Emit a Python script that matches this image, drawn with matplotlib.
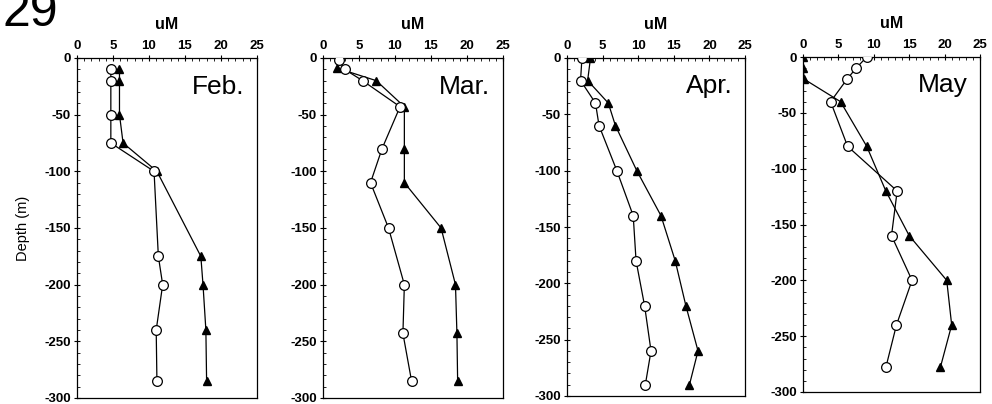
import matplotlib
matplotlib.use("Agg")
import matplotlib.pyplot as plt
from matplotlib.ticker import MultipleLocator

plt.rcParams['font.family'] = ['Liberation Sans', 'DejaVu Sans']
plt.rcParams['axes.unicode_minus'] = False

months = ["Feb.", "Mar.", "Apr.", "May"]

# open circles / filled triangles: (concentration uM, depth m)
feb_circ_x = [4.7, 4.7, 4.7, 4.7, 10.7, 11.3, 11.9, 11.0, 11.1]
feb_circ_d = [-10, -20, -50, -75, -100, -175, -200, -240, -285]
feb_tri_x = [5.9, 5.9, 5.9, 6.4, 11.1, 17.2, 17.5, 17.9, 18.0]
feb_tri_d = [-10, -20, -50, -75, -100, -175, -200, -240, -285]

mar_circ_x = [2.2, 3.0, 5.5, 10.7, 8.2, 6.6, 9.1, 11.3, 11.1, 12.3]
mar_circ_d = [-2, -10, -20, -43, -80, -110, -150, -200, -243, -285]
mar_tri_x = [2.0, 7.4, 11.3, 11.3, 11.3, 16.4, 18.4, 18.6, 18.7]
mar_tri_d = [-9, -20, -43, -80, -110, -150, -200, -243, -285]

apr_circ_x = [2.1, 1.9, 4.0, 4.5, 7.0, 9.3, 9.7, 10.9, 11.8, 11.0]
apr_circ_d = [0, -20, -40, -60, -100, -140, -180, -220, -260, -290]
apr_tri_x = [3.3, 2.9, 5.8, 6.8, 9.8, 13.2, 15.2, 16.7, 18.4, 17.2]
apr_tri_d = [0, -20, -40, -60, -100, -140, -180, -220, -260, -290]

may_circ_x = [9.0, 7.5, 6.2, 3.9, 6.3, 13.3, 12.5, 15.4, 13.2, 11.7]
may_circ_d = [0, -10, -20, -40, -80, -120, -160, -200, -240, -278]
may_tri_x = [0.0, 0.0, 0.2, 5.3, 9.0, 11.7, 15.0, 20.3, 21.0, 19.4]
may_tri_d = [0, -10, -20, -40, -80, -120, -160, -200, -240, -278]

circ_x = [feb_circ_x, mar_circ_x, apr_circ_x, may_circ_x]
circ_d = [feb_circ_d, mar_circ_d, apr_circ_d, may_circ_d]
tri_x = [feb_tri_x, mar_tri_x, apr_tri_x, may_tri_x]
tri_d = [feb_tri_d, mar_tri_d, apr_tri_d, may_tri_d]

W, H = 992, 404
fig = plt.figure(figsize=(W / 100, H / 100), dpi=100)

# panel boxes in pixels: left, top, right, bottom
boxes = [(77, 58, 257, 398), (323, 58, 503, 398),
         (567, 58, 745, 396), (803, 57, 980, 392)]

for i, (l, t, r, b) in enumerate(boxes):
    ax = fig.add_axes([l / W, 1 - b / H, (r - l) / W, (b - t) / H])
    ax.plot(tri_x[i], tri_d[i], color='black', lw=0.9, marker='^',
            ms=6, mfc='black', mec='black', zorder=2)
    ax.plot(circ_x[i], circ_d[i], color='black', lw=0.9, marker='o',
            ms=7, mfc='white', mec='black', mew=0.9, zorder=3)
    ax.set_xlim(0, 25)
    ax.set_ylim(-300, 0)
    ax.xaxis.set_major_locator(MultipleLocator(5))
    ax.xaxis.set_minor_locator(MultipleLocator(1))
    ax.yaxis.set_major_locator(MultipleLocator(50))
    ax.yaxis.set_minor_locator(MultipleLocator(10))
    ax.xaxis.tick_top()
    ax.xaxis.set_label_position('top')
    ax.tick_params(axis='x', which='major', direction='inout', length=5,
                   width=0.8, labelsize=9.5, pad=2, bottom=False)
    ax.tick_params(axis='x', which='minor', direction='in', length=2.5,
                   width=0.6, bottom=False)
    ax.tick_params(axis='y', which='major', direction='inout', length=5,
                   width=0.8, labelsize=9.5, pad=2, right=False)
    ax.tick_params(axis='y', which='minor', direction='in', length=2.5,
                   width=0.6, right=False)
    for lab in ax.get_xticklabels() + ax.get_yticklabels():
        lab.set_fontweight('bold')
    for s in ax.spines.values():
        s.set_linewidth(0.9)
    ax.set_xlabel('uM', fontsize=11.5, fontweight='bold', labelpad=8)
    ax.text(0.93, 0.895, months[i], transform=ax.transAxes, fontsize=19,
            ha='right', va='baseline')
    if i == 0:
        ax.set_ylabel('Depth (m)', fontsize=10.5, labelpad=10)

fig.text(0.003, 0.935, '29', fontsize=36, ha='left', va='baseline')

fig.savefig('out.png', dpi=100)
